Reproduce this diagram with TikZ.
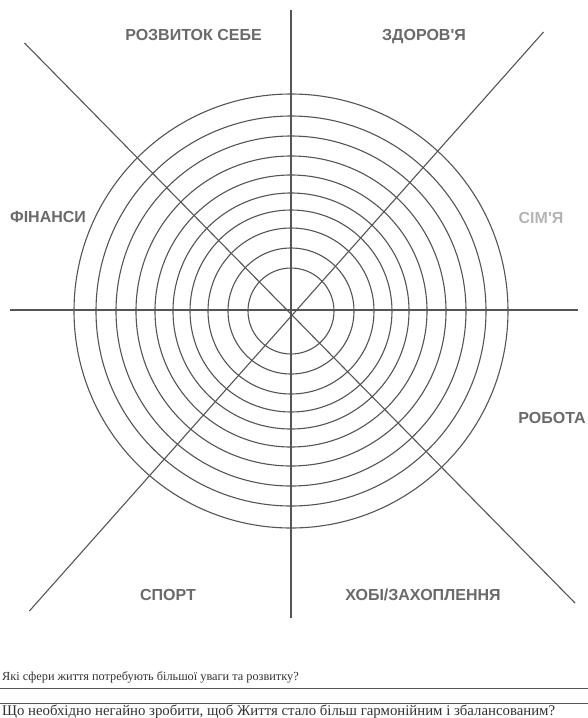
\documentclass[tikz,border=0pt]{standalone}
\usepackage{fontspec}
\setmainfont{Liberation Serif}
\newfontfamily\headfont{Liberation Sans}
\definecolor{linegray}{HTML}{555555}
\definecolor{titlegray}{HTML}{6A6A6A}
\definecolor{palegray}{HTML}{B4B4B4}
\definecolor{textgray}{HTML}{333333}
\tikzset{
  axis/.style={draw=linegray, line width=1.1pt},
  ring/.style={draw=linegray, line width=1.1pt},
  sector/.style={font=\headfont\fontsize{16}{18}\selectfont\bfseries, text=titlegray, inner sep=0pt, anchor=base},
  question/.style={font=\fontsize{12.3}{14}\selectfont, text=textgray, anchor=base west, inner sep=0pt},
  rule/.style={draw=linegray, line width=0.8pt}
}
\begin{document}
\begin{tikzpicture}[x=1pt,y=-1pt]
\useasboundingbox[fill=white] (0,0) rectangle (588,718);
% centre and axis ends
\coordinate (c) at (291,311);
\coordinate (vt) at (291,10);
\coordinate (vb) at (291,618);
\coordinate (hl) at (10,310);
\coordinate (hr) at (578,310);
\coordinate (dtl) at (24.5,43);
\coordinate (dbr) at (575,603);
\coordinate (dtr) at (543.5,32);
\coordinate (dbl) at (29.4,611);
% rings
\foreach \r in {43,63,83,101,118,136,155,175,195,217}
  \draw[ring] (c) circle[radius=\r];
% axes
\draw[axis] (vt) -- (vb);
\draw[axis] (hl) -- (hr);
\draw[axis] (dtl) -- (dbr);
\draw[axis] (dtr) -- (dbl);
% sector labels
\node[sector] (s1) at (193.5,40) {РОЗВИТОК СЕБЕ};
\node[sector] (s2) at (424,40) {ЗДОРОВ'Я};
\node[sector] (s3) at (48,222) {ФІНАНСИ};
\node[sector, text=palegray] (s4) at (541,223) {СІМ'Я};
\node[sector] (s5) at (552,423) {РОБОТА};
\node[sector] (s6) at (168,600) {СПОРТ};
\node[sector] (s7) at (423,600) {ХОБІ/ЗАХОПЛЕННЯ};
% questions
\node[question] (q1) at (2,680) {Які сфери життя потребують більшої уваги та розвитку?};
\coordinate (r1l) at (0,688);
\coordinate (r1r) at (588,688);
\draw[rule] (r1l) -- (r1r);
\coordinate (r2l) at (0,703);
\coordinate (r2r) at (588,703);
\draw[rule] (r2l) -- (r2r);
\node[question, font=\fontsize{14.8}{16}\selectfont] (q2) at (2,715) {Що необхідно негайно зробити, щоб Життя стало більш гармонійним і збалансованим?};
\end{tikzpicture}
\end{document}
